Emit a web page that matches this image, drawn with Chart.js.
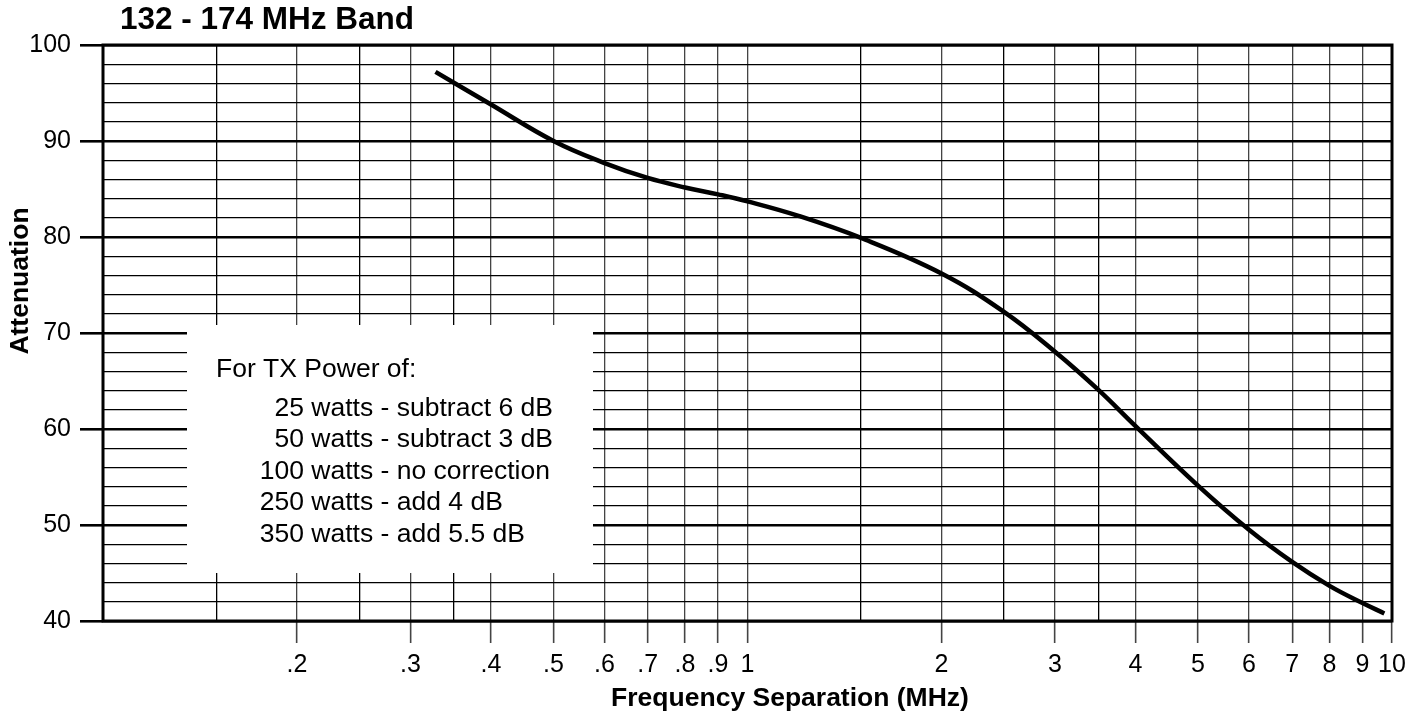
<!DOCTYPE html>
<html>
<head>
<meta charset="utf-8">
<script src="https://cdn.jsdelivr.net/npm/chart.js@4.4.1/dist/chart.umd.min.js"></script>
<style>
  body { margin: 0; background: #fff; }
  #wrap { width: 1423px; height: 713px; position: relative; }
</style>
</head>
<body>
<div id="wrap"><canvas id="chart"></canvas></div>
<script>
// curve
const freqMHz = [0.328, 0.4, 0.5, 0.6, 0.7, 0.8, 0.9, 1.0, 1.2, 1.5, 2.0, 2.5, 3.0, 3.5, 4.0, 5.0, 6.0, 7.0, 8.0, 9.0, 9.73];
const attenDb = [97.2, 93.8, 90.0, 87.7, 86.15, 85.16, 84.44, 83.71, 82.2, 79.9, 76.2, 72.2, 68.05, 64.1, 60.3, 54.1, 49.5, 46.15, 43.66, 41.87, 40.79];

// x axis: labelled ticks and the extra unlabelled grid lines
const xTickValues = [0.2, 0.3, 0.4, 0.5, 0.6, 0.7, 0.8, 0.9, 1, 2, 3, 4, 5, 6, 7, 8, 9, 10];
const xTickLabels = ['.2', '.3', '.4', '.5', '.6', '.7', '.8', '.9', '1', '2', '3', '4', '5', '6', '7', '8', '9', '10'];
const xExtraGrid = [0.15, 0.25, 0.35, 1.5, 2.5, 3.5];

// note box
const noteHeading = 'For TX Power of:';
const noteWatts = ['25', '50', '100', '250', '350'];
const noteCorrections = ['subtract 6 dB', 'subtract 3 dB', 'no correction', 'add 4 dB', 'add 5.5 dB'];

const chartTitle = '132 - 174 MHz Band';
const xTitle = 'Frequency Separation (MHz)';
const yTitle = 'Attenuation';

const FONT = '"Liberation Sans", Arial, Helvetica, sans-serif';

function labelIndex(v) {
  return xTickValues.findIndex(t => Math.abs(t - v) < 1e-6);
}

const overlay = {
  id: 'overlay',
  beforeDatasetsDraw(chart) {
    const { ctx, chartArea: a } = chart;
    ctx.save();
    // white note box hides the grid behind it
    ctx.fillStyle = '#fff';
    ctx.fillRect(a.left + 84, a.top + 280, 406, 248);
    // frame
    ctx.strokeStyle = '#000';
    ctx.lineWidth = 3;
    ctx.strokeRect(a.left, a.top, a.right - a.left, a.bottom - a.top);
    ctx.restore();
  },
  afterDraw(chart) {
    const { ctx, chartArea: a } = chart;
    ctx.save();
    ctx.fillStyle = '#000';
    ctx.textBaseline = 'alphabetic';

    // title
    ctx.font = 'bold 31.5px ' + FONT;
    ctx.textAlign = 'left';
    ctx.fillText(chartTitle, 120, 28.5);

    // x title
    ctx.font = 'bold 26.5px ' + FONT;
    ctx.textAlign = 'center';
    ctx.fillText(xTitle, 790, 706);

    // y title
    ctx.save();
    ctx.translate(28, 281);
    ctx.rotate(-Math.PI / 2);
    ctx.fillText(yTitle, 0, 0);
    ctx.restore();

    // note text
    ctx.font = '26.5px ' + FONT;
    ctx.textAlign = 'left';
    ctx.fillText(noteHeading, a.left + 113, a.top + 332);
    const numRight = a.left + 201;
    noteWatts.forEach((w, i) => {
      const y = a.top + 370.5 + i * 31.5;
      ctx.textAlign = 'right';
      ctx.fillText(w, numRight, y);
      ctx.textAlign = 'left';
      ctx.fillText(' watts - ' + noteCorrections[i], numRight, y);
    });
    ctx.restore();
  }
};

new Chart(document.getElementById('chart'), {
  type: 'scatter',
  data: {
    datasets: [{
      data: freqMHz.map((f, i) => ({ x: f, y: attenDb[i] })),
      showLine: true,
      borderColor: '#000',
      borderWidth: 4.5,
      pointRadius: 0,
      tension: 0.4,
      borderCapStyle: 'butt'
    }]
  },
  options: {
    responsive: true,
    maintainAspectRatio: false,
    animation: false,
    layout: { padding: { top: 45, right: 31, bottom: 0, left: 0 } },
    plugins: {
      legend: { display: false },
      tooltip: { enabled: false }
    },
    scales: {
      x: {
        type: 'logarithmic',
        min: 0.1,
        max: 10,
        afterBuildTicks(scale) {
          scale.ticks = xTickValues.concat(xExtraGrid).sort((p, q) => p - q).map(v => ({ value: v }));
        },
        afterFit(scale) { scale.height = 92; },
        border: { display: false },
        grid: {
          color: c => (labelIndex(c.tick.value) >= 0 ? '#444' : '#000'),
          lineWidth: 1.3,
          tickLength: 22,
          tickColor: c => (labelIndex(c.tick.value) >= 0 ? '#444' : 'rgba(0,0,0,0)'),
          tickWidth: 1.6
        },
        ticks: {
          autoSkip: false,
          maxRotation: 0,
          padding: 7,
          color: '#000',
          font: { family: FONT, size: 25 },
          callback(v) {
            const i = labelIndex(v);
            return i >= 0 ? xTickLabels[i] : '';
          }
        }
      },
      y: {
        min: 40,
        max: 100,
        afterFit(scale) { scale.width = 103; },
        border: { display: false },
        grid: {
          color: '#000',
          lineWidth: c => (c.tick && c.tick.value % 10 === 0 ? 2.6 : 1.3),
          tickLength: 23,
          tickColor: c => (c.tick && c.tick.value % 10 === 0 ? '#000' : 'rgba(0,0,0,0)'),
          tickWidth: 2.6
        },
        ticks: {
          stepSize: 2,
          autoSkip: false,
          padding: 9,
          color: '#000',
          font: { family: FONT, size: 25 },
          callback: v => (v % 10 === 0 ? String(v) : '')
        }
      }
    }
  },
  plugins: [overlay]
});
</script>
</body>
</html>
